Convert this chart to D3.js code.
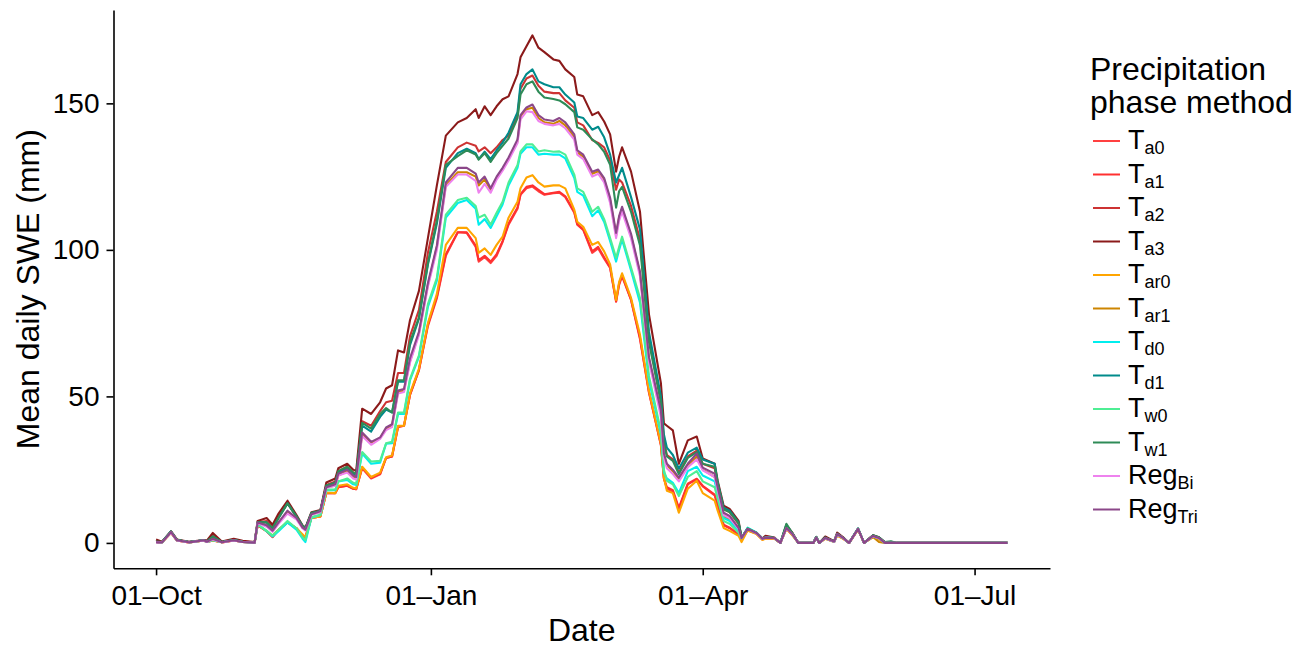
<!DOCTYPE html>
<html>
<head>
<meta charset="utf-8">
<script src="https://cdnjs.cloudflare.com/ajax/libs/d3/7.8.5/d3.min.js"></script>
<style>
  body { margin: 0; background: #fff; }
  svg { font-family: 'Liberation Sans', Arial, sans-serif; }
  .axis path, .axis line { stroke: #000; stroke-width: 1.6; }
  .axis text { fill: #000; font-size: 28px; }
</style>
</head>
<body>
<script>
// day offsets from 01-Oct (water year, leap year spring)
var days = [0,2,5,7,11, 16,17,19,22,26, 29,33,34,37,39, 41,44,47,49,50, 52,55,57,60,61,
  64,66,67,69,72, 75,77,79,81,83, 85,88,91,94,97, 101,104,107,108,110, 112,114,116,118,121,
  122,124,126,128,130, 133,135,137,140,141, 143,146,148,150,152, 154,155,156,159,162,
  165,169,170,171,173, 175,178,181,183,187, 188,190,192,195,196, 198,201,203,204,207,
  209,211,213,215,220, 221,222,224,227,228, 230,232,235,237,240, 242,244,246,248,285];

// mean daily SWE (mm) per precipitation phase method
var tA0 = [0.3,0.2,3.5,0.8,0.2, 0.8,0.3,0.8,0.2,0.8, 0.3,0.1,6.0,4.0,2.0, 4.5,7.0,5.0,2.5,2.0, 8.5,9.0,17.0,17.0,19.0,
  19.5,18.5,18.3,25.5,22.0, 23.4,29.0,29.5,39.5,40.0, 50.5,59.0,74.0,83.5,98.0, 106.0,105.8,101.0,96.0,97.5, 95.5,98.0,102.7,108.6,114.0,
  118.8,121.0,121.6,120.0,118.8, 119.3,119.5,118.0,112.7,108.6, 106.8,99.0,100.5,97.0,93.8, 82.3,88.0,91.0,82.9,69.5,
  51.3,33.3,22.0,18.5,17.5, 11.5,20.0,21.7,19.3,16.2, 12.8,6.0,5.0,2.8,1.0, 4.3,3.2,1.2,1.7,1.5,
  0,5.0,2.8,0,0, 1.8,0,1.5,0.4,2.7, 1.5,0,4.6,0,2.2, 1.5,0,0,0,0];
var tA1 = [0.3,0.2,3.5,0.8,0.2, 0.8,0.3,0.8,0.2,0.8, 0.3,0.1,6.0,4.0,2.0, 4.5,7.0,5.0,2.5,2.0, 8.5,9.0,17.0,17.0,19.0,
  19.5,18.5,18.3,25.8,22.3, 23.6,29.0,29.5,39.7,40.0, 50.5,59.0,74.5,84.0,98.5, 106.0,106.0,101.5,96.5,98.0, 96.0,98.5,103.0,109.0,114.5,
  119.0,121.5,122.0,120.5,119.0, 119.5,119.8,118.3,113.0,108.8, 107.0,99.5,101.0,97.5,94.0, 82.5,88.5,91.4,83.0,70.0,
  51.5,33.5,22.0,19.0,18.0, 12.0,20.2,21.9,19.5,16.5, 13.0,6.2,5.2,3.0,1.0, 4.3,3.2,1.2,1.7,1.5,
  0,5.0,2.8,0,0, 1.8,0,1.5,0.4,2.7, 1.5,0,4.6,0,2.2, 1.5,0,0,0,0];
var tA2 = [0.5,0.3,3.8,1.0,0.3, 0.9,0.5,2.5,0.3,1.1, 0.5,0.2,7.0,7.5,5.5, 9.0,13.5,9.0,5.8,5.0, 10.0,10.8,19.8,21.0,24.5,
  26.0,24.0,23.5,41.5,40.0, 45.0,48.0,48.5,58.0,58.0, 70.5,79.5,99.0,113.0,130.0, 135.0,136.6,135.5,133.6,135.0, 133.0,135.0,137.5,139.0,146.0,
  155.0,158.5,159.5,156.0,154.0, 153.5,153.5,151.0,148.5,143.5, 142.5,137.5,136.5,135.0,130.5, 120.5,124.0,123.0,115.0,103.5,
  70.0,48.5,35.0,30.0,28.5, 24.0,29.5,31.5,27.0,25.5, 20.0,11.5,10.5,6.5,1.7, 4.8,3.4,1.4,2.2,1.7,
  0,5.8,3.3,0,0, 2.0,0,1.9,0.5,3.2, 1.8,0,4.8,0,2.5, 1.8,0,0,0,0];
var tA3 = [1.2,0.4,4.0,1.2,0.4, 1.0,0.8,3.4,0.5,1.4, 0.7,0.3,7.5,8.5,6.2, 10.0,14.4,9.5,6.0,5.2, 10.5,11.2,20.6,22.0,25.5,
  27.0,25.0,24.5,45.8,44.0, 48.0,52.7,53.8,65.7,65.0, 76.0,86.0,104.0,122.0,139.0, 143.5,145.0,148.0,145.0,149.0, 146.0,149.0,151.4,152.4,160.0,
  165.7,169.5,173.2,169.0,167.5, 165.0,164.5,161.6,159.0,153.0, 152.4,146.0,147.0,143.8,139.4, 126.7,131.8,135.0,126.7,113.0,
  78.0,54.5,40.8,40.0,38.4, 27.0,35.0,36.3,28.8,27.0, 21.2,12.7,11.6,7.5,1.8, 4.8,3.5,1.5,2.4,1.8,
  0,6.0,3.5,0,0, 2.0,0,2.2,0.6,3.5, 1.9,0,4.9,0,2.6, 1.9,0.2,0,0,0];
var tAr0 = [0.3,0.2,3.5,0.8,0.2, 0.8,0.3,0.8,0.2,0.8, 0.3,0.1,6.2,4.0,2.5, 4.5,7.0,5.0,3.0,2.0, 8.5,9.0,17.2,17.0,19.5,
  20.0,18.8,18.6,26.0,22.5, 24.0,29.2,29.8,40.0,40.0, 51.0,59.5,75.0,85.0,101.7, 107.5,107.5,104.0,99.0,100.5, 98.3,101.7,104.5,111.0,116.4,
  121.0,124.7,125.5,123.0,121.6, 122.0,122.0,121.0,113.7,109.6, 107.9,101.7,102.7,99.5,95.0, 82.9,89.0,92.0,83.6,71.0,
  52.0,33.9,22.3,17.8,17.0, 10.3,18.5,21.2,17.0,14.4, 11.0,5.1,4.1,2.4,0.3, 4.2,3.0,1.0,1.5,1.4,
  0,4.8,2.6,0,0, 1.8,0,1.4,0.3,2.5, 1.4,0,4.5,0,2.0, 1.2,0,0,0,0];
var tAr1 = [0.3,0.2,3.7,0.9,0.2, 0.8,0.4,1.4,0.2,0.9, 0.4,0.1,6.8,6.0,4.0, 7.0,10.5,8.5,5.2,4.5, 9.8,10.6,19.0,19.5,23.0,
  24.5,22.5,22.0,37.0,34.0, 35.8,39.0,40.0,51.5,52.0, 62.0,71.5,88.0,101.0,122.0, 126.5,126.5,125.0,122.0,124.0, 120.5,124.5,127.5,131.0,137.0,
  145.5,148.0,148.5,145.0,143.5, 143.0,144.0,142.5,138.5,133.2, 131.8,126.0,126.8,124.0,117.0, 105.0,111.0,114.0,104.8,92.0,
  62.8,44.5,30.0,26.5,24.5, 21.5,26.5,29.5,25.0,22.5, 17.5,9.0,8.0,4.5,1.5, 4.6,3.3,1.3,1.8,1.6,
  0,5.0,3.0,0,0, 1.8,0,1.6,0.4,2.9, 1.6,0,4.7,0,2.0, 0.3,0,0,0,0];
var tD0 = [0.3,0.2,3.8,0.9,0.2, 0.9,0.3,1.0,0.2,0.9, 0.3,0.1,6.3,4.0,2.2, 4.0,7.0,4.5,1.5,0.3, 8.6,9.5,18.0,18.0,21.0,
  21.5,20.0,19.8,30.5,27.0, 27.4,33.9,34.0,44.0,44.0, 55.5,63.5,80.5,89.5,111.0, 116.0,117.0,114.0,108.6,110.5, 107.5,111.5,115.5,122.0,128.0,
  132.8,135.0,135.0,132.5,132.8, 132.5,132.5,131.2,124.5,119.8, 118.5,111.5,113.5,109.5,103.0, 96.0,100.0,103.5,93.0,82.0,
  55.5,37.0,24.0,22.0,20.5, 17.0,24.5,26.0,23.0,21.0, 16.5,8.5,7.5,4.0,1.7, 5.2,3.6,1.5,1.9,1.7,
  0,5.2,3.0,0,0, 1.9,0,1.6,0.4,2.9, 1.6,0,4.9,0,2.3, 1.6,0,0,0,0];
var tD1 = [0.4,0.3,3.9,1.0,0.3, 0.9,0.5,2.2,0.3,1.0, 0.4,0.2,7.0,7.0,5.0, 8.5,13.5,9.0,5.8,5.0, 10.2,10.9,19.5,20.5,24.0,
  25.5,23.5,23.0,40.0,38.0, 43.0,45.5,44.5,55.0,55.0, 67.5,76.5,95.0,109.0,128.0, 133.0,134.5,133.0,131.0,133.5, 131.0,134.0,136.6,140.0,147.0,
  156.5,160.0,161.6,157.5,156.5, 155.5,155.5,153.0,150.3,145.5, 145.0,141.0,142.0,138.4,132.5, 123.0,125.5,128.0,118.0,107.0,
  72.0,50.0,37.0,32.5,30.0, 25.3,30.8,32.5,28.5,27.0, 20.5,12.0,11.0,7.0,1.7, 4.9,3.4,1.4,2.0,1.7,
  0,6.2,3.3,0,0, 2.0,0,1.8,0.5,3.1, 1.7,0,4.9,0,2.5, 1.8,0.2,0.2,0,0];
var tW0 = [0.3,0.2,3.7,0.9,0.2, 0.8,0.3,1.0,0.2,0.9, 0.3,0.1,6.3,4.2,2.5, 4.5,7.5,5.0,2.0,1.0, 8.8,9.6,18.2,18.2,21.0,
  22.0,20.5,20.2,31.0,27.8, 28.0,34.0,34.5,44.5,44.5, 56.0,64.0,81.5,90.5,112.0, 117.0,117.8,115.0,111.0,112.0, 108.6,112.7,116.4,123.0,129.0,
  133.6,136.0,136.0,133.6,134.0, 133.5,133.6,132.5,125.7,121.0, 119.8,113.0,114.7,110.5,104.0, 97.3,101.0,104.5,94.0,83.6,
  57.0,38.0,25.0,21.2,20.0, 16.0,22.5,24.5,21.0,19.0, 15.0,7.5,6.5,3.5,1.6, 5.0,3.4,1.4,1.8,1.7,
  0,5.2,3.0,0,0, 1.9,0,1.6,0.4,2.9, 1.6,0,4.8,0,2.3, 1.6,0,0,0,0];
var tW1 = [0.4,0.3,3.9,1.0,0.3, 0.9,0.5,2.2,0.3,1.0, 0.4,0.2,7.0,7.0,5.0, 8.5,13.5,9.0,5.8,5.0, 10.2,10.9,19.6,20.5,24.5,
  26.0,24.0,23.5,41.0,39.0, 44.0,46.0,44.5,55.5,55.5, 68.5,77.0,95.5,110.0,129.0, 132.0,134.0,132.5,130.8,133.0, 130.0,133.0,135.5,138.0,145.0,
  153.0,156.5,157.5,154.0,152.0, 151.5,151.0,149.7,147.0,141.8, 141.0,137.7,136.0,133.5,129.0, 114.4,120.0,121.5,113.0,101.5,
  68.5,48.0,34.0,29.5,28.0, 23.5,29.0,31.0,27.0,26.0, 20.5,11.5,10.5,6.8,1.7, 4.9,3.4,1.4,2.0,1.7,
  0,6.5,3.3,0,0, 2.1,0,1.8,0.5,3.1, 1.7,0,4.9,0,2.6, 1.9,0.3,0.6,0,0];
var regBi = [0.2,0.2,3.6,0.8,0.2, 0.8,0.3,1.2,0.2,0.8, 0.3,0.1,6.8,5.5,3.8, 6.5,10.0,8.0,5.0,4.2, 9.6,10.5,18.8,19.5,23.0,
  24.0,22.0,21.6,36.5,33.5, 35.5,38.5,39.5,51.0,51.5, 61.5,71.0,87.5,100.0,121.5, 125.7,125.7,123.5,119.5,122.5, 119.5,124.0,127.0,130.5,136.5,
  144.5,147.3,147.0,144.0,143.0, 142.5,143.0,141.5,137.6,132.5, 131.0,125.0,126.0,123.0,116.0, 104.0,110.0,113.0,104.0,91.0,
  62.0,43.0,29.0,25.5,23.5, 21.0,25.8,28.5,24.8,22.5, 18.0,9.5,8.5,4.8,1.6, 4.7,3.3,1.3,1.8,1.6,
  0,5.0,3.0,0,0, 1.8,0,1.6,0.4,2.9, 1.6,0,4.7,0,2.3, 1.6,0,0,0,0];
var regTri = [0.2,0.2,3.7,0.9,0.2, 0.9,0.4,1.4,0.2,0.9, 0.3,0.1,7.0,6.0,4.2, 7.0,11.0,8.5,5.3,4.5, 9.8,10.8,19.0,20.0,23.6,
  25.0,23.0,22.5,37.7,34.5, 36.0,39.4,40.5,52.0,52.5, 63.0,72.0,88.7,101.5,123.0, 128.0,128.0,126.0,123.0,125.0, 121.0,125.0,128.0,131.5,137.7,
  146.0,148.6,149.6,146.0,144.5, 144.0,145.0,143.5,139.4,134.0, 132.5,126.7,127.4,124.5,117.8, 105.8,111.5,114.7,105.5,92.5,
  63.4,45.2,30.5,27.0,25.0, 22.3,27.0,30.5,25.7,23.6, 19.0,10.3,9.2,5.1,1.7, 4.8,3.4,1.4,1.8,1.7,
  0,5.1,3.0,0,0, 1.8,0,1.7,0.5,3.0, 1.7,0,4.8,0,2.4, 1.7,0,0,0,0];

var methodBase = ['T','T','T','T','T','T','T','T','T','T','Reg','Reg'];
var methodSub = ['a0','a1','a2','a3','ar0','ar1','d0','d1','w0','w1','Bi','Tri'];
var methodColors = ['#FF4040','#FF3030','#CD3333','#8B1A1A','#FFA500','#CD8500',
  '#00EEEE','#008B8B','#4EEE94','#2E8B57','#EE82EE','#8B4789'];
var seriesValues = [tA0, tA1, tA2, tA3, tAr0, tAr1, tD0, tD1, tW0, tW1, regBi, regTri];
var xTickDates = ['2007-10-01','2008-01-01','2008-04-01','2008-07-01'];
var yTicks = [0, 50, 100, 150];

var W = 1307, H = 650;
var panelLeft = 113.5, panelRight = 1050, panelTop = 10, panelBottom = 568.3;

var svg = d3.select('body').append('svg')
  .attr('width', W)
  .attr('height', H);

var start = new Date(2007, 9, 1);
var dates = days.map(function (d) { return d3.timeDay.offset(start, d); });
var series = seriesValues.map(function (vals, i) {
  return {
    base: methodBase[i], sub: methodSub[i], color: methodColors[i],
    points: vals.map(function (v, j) { return { date: dates[j], value: v }; })
  };
});

// ggplot style 5% expansion
var xExt = d3.extent(dates);
var xSpan = xExt[1] - xExt[0];
var x = d3.scaleTime()
  .domain([new Date(+xExt[0] - 0.05 * xSpan), new Date(+xExt[1] + 0.05 * xSpan)])
  .range([panelLeft, panelRight]);

var yMax = d3.max(seriesValues, function (s) { return d3.max(s); });
var y = d3.scaleLinear()
  .domain([-0.05 * yMax, yMax * 1.05])
  .range([panelBottom, panelTop]);

var parseDay = d3.timeParse('%Y-%m-%d');
var fmt = d3.timeFormat('%d-%b');
var xAxis = d3.axisBottom(x)
  .tickValues(xTickDates.map(function (s) { return parseDay(s); }))
  .tickFormat(function (d) { return fmt(d).replace('-', '\u2013'); })
  .tickSize(7).tickSizeOuter(0).tickPadding(10);

var xAxisEl = svg.append('g')
  .attr('class', 'axis')
  .attr('transform', 'translate(0,' + panelBottom + ')')
  .call(xAxis);

var yAxis = d3.axisLeft(y)
  .tickValues(yTicks)
  .tickSize(7).tickSizeOuter(0).tickPadding(7);

var yAxisEl = svg.append('g')
  .attr('class', 'axis')
  .attr('transform', 'translate(' + panelLeft + ',0)')
  .call(yAxis);

// lines
var line = d3.line()
  .x(function (d) { return x(d.date); })
  .y(function (d) { return y(d.value); });

svg.append('g').selectAll('path').data(series).enter().append('path')
  .attr('fill', 'none')
  .attr('stroke', function (d) { return d.color; })
  .attr('stroke-width', 2.1)
  .attr('stroke-linejoin', 'round')
  .attr('d', function (d) { return line(d.points); });

// axis titles
svg.append('text')
  .attr('x', (panelLeft + panelRight) / 2)
  .attr('y', 641)
  .attr('text-anchor', 'middle')
  .style('font-size', '32px')
  .text('Date');

svg.append('text')
  .attr('transform', 'translate(39,' + ((panelTop + panelBottom) / 2) + ') rotate(-90)')
  .attr('text-anchor', 'middle')
  .style('font-size', '32px')
  .text('Mean daily SWE (mm)');

// legend
var legend = svg.append('g').attr('transform', 'translate(1090,0)');
legend.append('text').attr('x', 0).attr('y', 80).style('font-size', '32px').text('Precipitation');
legend.append('text').attr('x', 0).attr('y', 113).style('font-size', '32px').text('phase method');

var keyY0 = 141, keyStep = 33.5;
var items = legend.selectAll('.item').data(series).enter().append('g')
  .attr('class', 'item')
  .attr('transform', function (d, i) { return 'translate(0,' + (keyY0 + i * keyStep) + ')'; });
items.append('line')
  .attr('x1', 3).attr('x2', 30)
  .attr('stroke', function (d) { return d.color; })
  .attr('stroke-width', 2);
var labels = items.append('text')
  .attr('x', 38)
  .attr('y', 8)
  .style('font-size', '27px');
labels.append('tspan').text(function (d) { return d.base; });
labels.append('tspan')
  .attr('dy', 5)
  .style('font-size', '18px')
  .text(function (d) { return d.sub; });
</script>
</body>
</html>
